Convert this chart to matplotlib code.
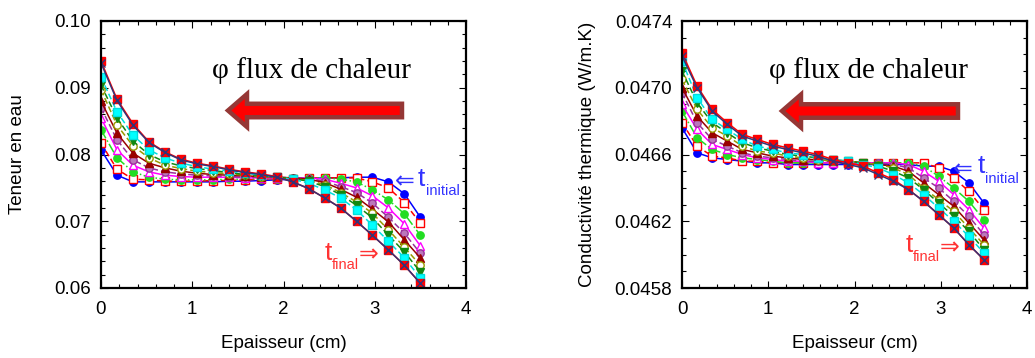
import matplotlib
matplotlib.use('Agg')
import matplotlib.pyplot as plt
from matplotlib.patches import FancyArrow
from matplotlib.transforms import IdentityTransform
from matplotlib.ticker import MultipleLocator, FormatStrFormatter

plt.rcParams['font.family'] = ['Liberation Sans', 'DejaVu Sans']

# ---------------- data ----------------
x_cm = [0.0, 0.175, 0.35, 0.525, 0.7, 0.875, 1.05, 1.225, 1.4, 1.575, 1.75,
        1.925, 2.1, 2.275, 2.45, 2.625, 2.8, 2.975, 3.15, 3.325, 3.5]

# Teneur en eau (left panel), from t_initial to t_final
w_blue = [0.0807, 0.0769, 0.0759, 0.0759, 0.0759, 0.0759, 0.0759, 0.0759, 0.0760, 0.0760, 0.0761,
          0.0762, 0.0763, 0.0764, 0.0765, 0.0765, 0.0766, 0.0766, 0.0759, 0.0741, 0.0706]
w_redo = [0.0817, 0.0778, 0.0763, 0.0762, 0.0760, 0.0760, 0.0760, 0.0761, 0.0761, 0.0762, 0.0763,
          0.0764, 0.0764, 0.0765, 0.0765, 0.0765, 0.0765, 0.0759, 0.0750, 0.0728, 0.0697]
w_lime = [0.0837, 0.0795, 0.0774, 0.0766, 0.0763, 0.0762, 0.0762, 0.0762, 0.0763, 0.0763, 0.0764,
          0.0764, 0.0765, 0.0765, 0.0765, 0.0763, 0.0759, 0.0747, 0.0732, 0.0711, 0.0679]
w_mag = [0.0855, 0.0807, 0.0784, 0.0774, 0.0769, 0.0767, 0.0766, 0.0766, 0.0766, 0.0765, 0.0765,
         0.0765, 0.0765, 0.0765, 0.0763, 0.0757, 0.0750, 0.0738, 0.0720, 0.0696, 0.0663]
w_purp = [0.0870, 0.0822, 0.0792, 0.0780, 0.0774, 0.0771, 0.0769, 0.0768, 0.0767, 0.0766, 0.0766,
          0.0766, 0.0765, 0.0764, 0.0760, 0.0752, 0.0743, 0.0727, 0.0706, 0.0682, 0.0652]
w_dred = [0.0880, 0.0832, 0.0802, 0.0787, 0.0780, 0.0775, 0.0772, 0.0770, 0.0769, 0.0768, 0.0767,
          0.0766, 0.0765, 0.0763, 0.0758, 0.0748, 0.0736, 0.0718, 0.0699, 0.0672, 0.0645]
w_oliv = [0.0897, 0.0844, 0.0813, 0.0795, 0.0784, 0.0779, 0.0775, 0.0773, 0.0771, 0.0769, 0.0767,
          0.0766, 0.0764, 0.0761, 0.0755, 0.0743, 0.0729, 0.0712, 0.0687, 0.0661, 0.0634]
w_gtri = [0.0904, 0.0855, 0.0820, 0.0800, 0.0789, 0.0783, 0.0779, 0.0776, 0.0773, 0.0770, 0.0768,
          0.0766, 0.0764, 0.0760, 0.0752, 0.0740, 0.0724, 0.0705, 0.0679, 0.0654, 0.0624]
w_cyan = [0.0916, 0.0864, 0.0829, 0.0807, 0.0795, 0.0787, 0.0782, 0.0778, 0.0775, 0.0772, 0.0769,
          0.0766, 0.0763, 0.0757, 0.0747, 0.0735, 0.0717, 0.0694, 0.0670, 0.0645, 0.0615]
w_redf = [0.0940, 0.0883, 0.0846, 0.0819, 0.0804, 0.0793, 0.0787, 0.0783, 0.0778, 0.0774, 0.0771,
          0.0767, 0.0759, 0.0749, 0.0735, 0.0720, 0.0700, 0.0679, 0.0657, 0.0634, 0.0607]
w_navy = [0.0937, 0.0881, 0.0844, 0.0818, 0.0803, 0.0792, 0.0786, 0.0782, 0.0777, 0.0773, 0.0770,
          0.0766, 0.0759, 0.0749, 0.0735, 0.0720, 0.0700, 0.0679, 0.0657, 0.0634, 0.0607]

# Conductivite thermique (right panel)
k_blue = [0.04676, 0.04661, 0.04658, 0.04657, 0.04656, 0.04655, 0.04655, 0.04654, 0.04654, 0.04654, 0.04654,
          0.04654, 0.04654, 0.04654, 0.04654, 0.04654, 0.04653, 0.04653, 0.04650, 0.04643, 0.04631]
k_redo = [0.04679, 0.04665, 0.04659, 0.04658, 0.04656, 0.04656, 0.04655, 0.04655, 0.04655, 0.04655, 0.04655,
          0.04655, 0.04655, 0.04655, 0.04655, 0.04655, 0.04655, 0.04652, 0.04646, 0.04638, 0.04627]
k_lime = [0.04686, 0.04670, 0.04663, 0.04660, 0.04658, 0.04657, 0.04656, 0.04655, 0.04655, 0.04655, 0.04655,
          0.04655, 0.04655, 0.04655, 0.04655, 0.04655, 0.04653, 0.04647, 0.04640, 0.04632, 0.04621]
k_mag = [0.04690, 0.04675, 0.04666, 0.04663, 0.04660, 0.04658, 0.04657, 0.04656, 0.04656, 0.04655, 0.04655,
         0.04655, 0.04655, 0.04655, 0.04655, 0.04654, 0.04650, 0.04644, 0.04636, 0.04627, 0.04616]
k_purp = [0.04697, 0.04679, 0.04669, 0.04665, 0.04661, 0.04659, 0.04658, 0.04657, 0.04656, 0.04656, 0.04656,
          0.04655, 0.04655, 0.04655, 0.04654, 0.04652, 0.04646, 0.04640, 0.04632, 0.04623, 0.04612]
k_dred = [0.04700, 0.04683, 0.04673, 0.04668, 0.04663, 0.04661, 0.04659, 0.04658, 0.04657, 0.04657, 0.04656,
          0.04656, 0.04655, 0.04654, 0.04653, 0.04650, 0.04643, 0.04636, 0.04629, 0.04619, 0.04609]
k_oliv = [0.04705, 0.04687, 0.04676, 0.04671, 0.04665, 0.04662, 0.04661, 0.04659, 0.04658, 0.04657, 0.04656,
          0.04656, 0.04655, 0.04654, 0.04652, 0.04648, 0.04640, 0.04633, 0.04626, 0.04616, 0.04606]
k_gtri = [0.04710, 0.04691, 0.04679, 0.04673, 0.04667, 0.04664, 0.04662, 0.04660, 0.04659, 0.04658, 0.04657,
          0.04656, 0.04655, 0.04653, 0.04650, 0.04646, 0.04639, 0.04631, 0.04623, 0.04614, 0.04603]
k_cyan = [0.04716, 0.04694, 0.04681, 0.04675, 0.04669, 0.04665, 0.04663, 0.04661, 0.04660, 0.04658, 0.04657,
          0.04656, 0.04654, 0.04652, 0.04648, 0.04643, 0.04636, 0.04628, 0.04620, 0.04611, 0.04601]
k_redf = [0.04721, 0.04701, 0.04687, 0.04679, 0.04672, 0.04669, 0.04666, 0.04664, 0.04662, 0.04660, 0.04657,
          0.04655, 0.04653, 0.04649, 0.04645, 0.04639, 0.04632, 0.04624, 0.04616, 0.04606, 0.04597]
k_navy = [0.04719, 0.04700, 0.04686, 0.04678, 0.04671, 0.04668, 0.04665, 0.04663, 0.04661, 0.04659, 0.04656,
          0.04654, 0.04652, 0.04648, 0.04644, 0.04639, 0.04632, 0.04624, 0.04616, 0.04606, 0.04597]

left_series = [w_blue, w_redo, w_lime, w_mag, w_purp, w_dred, w_oliv, w_gtri, w_cyan, w_redf, w_navy]
right_series = [k_blue, k_redo, k_lime, k_mag, k_purp, k_dred, k_oliv, k_gtri, k_cyan, k_redf, k_navy]

left_yticks = [0.06, 0.07, 0.08, 0.09, 0.10]
right_yticks = [0.0458, 0.0462, 0.0466, 0.0470, 0.0474]
xticks = [0, 1, 2, 3, 4]

# ---------------- styles ----------------
styles = [
    dict(color='#0000FF', marker='o', ls='-', mfc='#0000FF', mec='#0000FF'),
    dict(color='#FF0000', marker='s', ls=(0, (4, 2)), mfc='white', mec='#FF0000'),
    dict(color='#22DD22', marker='o', ls='-.', mfc='#22DD22', mec='#22DD22'),
    dict(color='#FF00FF', marker='^', ls='-', mfc='white', mec='#FF00FF'),
    dict(color='#993399', marker='o', ls=(0, (4, 2)), mfc='#BB77BB', mec='#993399'),
    dict(color='#990000', marker='^', ls='-', mfc='#990000', mec='#990000'),
    dict(color='#999900', marker='o', ls=(0, (4, 2)), mfc='white', mec='#999900'),
    dict(color='#118811', marker='v', ls=(0, (4, 2)), mfc='#118811', mec='#118811'),
    dict(color='#00DDDD', marker='s', ls=(0, (4, 2)), mfc='#00FFFF', mec='#00DDDD'),
    dict(color='#FF0000', marker='s', ls='-', mfc='#FF0000', mec='#FF0000'),
    dict(color='#333377', marker='x', ls='-', mfc='#333377', mec='#333377'),
]

W, H = 1035, 358
fig = plt.figure(figsize=(W / 100, H / 100), dpi=100)


def rect(x0, x1, y0, y1):
    return [x0 / W, (H - y1) / H, (x1 - x0) / W, (y1 - y0) / H]


ax1 = fig.add_axes(rect(101, 466, 21, 288))
ax2 = fig.add_axes(rect(682, 1027, 21, 288))

for ax, series in ((ax1, left_series), (ax2, right_series)):
    for ys, st in zip(series, styles):
        ax.plot(x_cm, ys, lw=1.1, ms=5.3, mew=1.0, **st)

ax1.set_xlim(0, 4)
ax1.set_ylim(0.06, 0.10)
ax1.set_yticks(left_yticks)
ax1.yaxis.set_major_formatter(FormatStrFormatter('%.2f'))
ax1.yaxis.set_minor_locator(MultipleLocator(0.002))

ax2.set_xlim(0, 4)
ax2.set_ylim(0.0458, 0.0474)
ax2.set_yticks(right_yticks)
ax2.yaxis.set_major_formatter(FormatStrFormatter('%.4f'))
ax2.yaxis.set_minor_locator(MultipleLocator(0.0001))

for ax in (ax1, ax2):
    ax.set_xticks(xticks)
    ax.xaxis.set_minor_locator(MultipleLocator(0.2))
    ax.tick_params(which='both', direction='in', top=True, right=True, labelsize=13.5, pad=7)
    ax.tick_params(axis='x', which='both', pad=9)
    ax.tick_params(which='major', length=5, width=0.8)
    ax.tick_params(which='minor', length=3, width=0.8)
    for sp in ax.spines.values():
        sp.set_linewidth(1.6)
    ax.set_xlabel('Epaisseur (cm)', fontsize=13.5)
    ax.xaxis.set_label_coords(0.5, -0.175)

ax1.set_ylabel('Teneur en eau', fontsize=13.5)
ax1.yaxis.set_label_coords(-0.205, 0.5)
ax2.set_ylabel('Conductivité thermique (W/m.K)', fontsize=13.5)
ax2.yaxis.set_label_coords(-0.25, 0.5)

# ---------------- annotations (pixel positions) ----------------
idt = IdentityTransform()


def px(x, y):
    return x, H - y


for cx, tip, tail, cy in ((311, 228, 402, 110.5), (868, 782, 958, 111)):
    fig.text(*px(cx, 78), 'φ flux de chaleur', family=['Liberation Serif', 'DejaVu Serif'],
             fontsize=21, ha='center', va='baseline', transform=idt)
    ar = FancyArrow(tail, H - cy, tip - tail, 0, width=13.5, head_width=33, head_length=19,
                    length_includes_head=True, fc='#FF0000', ec='#953735', lw=3.2,
                    joinstyle='miter', transform=idt)
    fig.add_artist(ar)

blue_t = '#3333FF'
red_t = '#FF3333'
# t initial
for ax_x, t_x, sub_x, y_arr, y_t, y_sub in ((405, 418, 426, 181, 186, 195),
                                            (963, 978, 985, 169, 173, 183)):
    fig.text(*px(ax_x, y_arr), '⇐', family=['DejaVu Sans'], fontsize=17, color=blue_t,
             ha='center', va='center', transform=idt)
    fig.text(*px(t_x, y_t), 't', fontsize=19, color=blue_t, ha='left', va='baseline', transform=idt)
    fig.text(*px(sub_x, y_sub), 'initial', fontsize=10.5, color=blue_t, ha='left', va='baseline',
             transform=idt)
# t final
for t_x, sub_x, ar_x, y_t, y_sub, y_arr in ((325, 332, 369, 260, 269, 254),
                                            (906, 913, 950, 252, 261, 247)):
    fig.text(*px(t_x, y_t), 't', fontsize=19, color=red_t, ha='left', va='baseline', transform=idt)
    fig.text(*px(sub_x, y_sub), 'final', fontsize=10.5, color=red_t, ha='left', va='baseline',
             transform=idt)
    fig.text(*px(ar_x, y_arr), '⇒', family=['DejaVu Sans'], fontsize=17, color=red_t,
             ha='center', va='center', transform=idt)

fig.savefig('out.png', dpi=100)
